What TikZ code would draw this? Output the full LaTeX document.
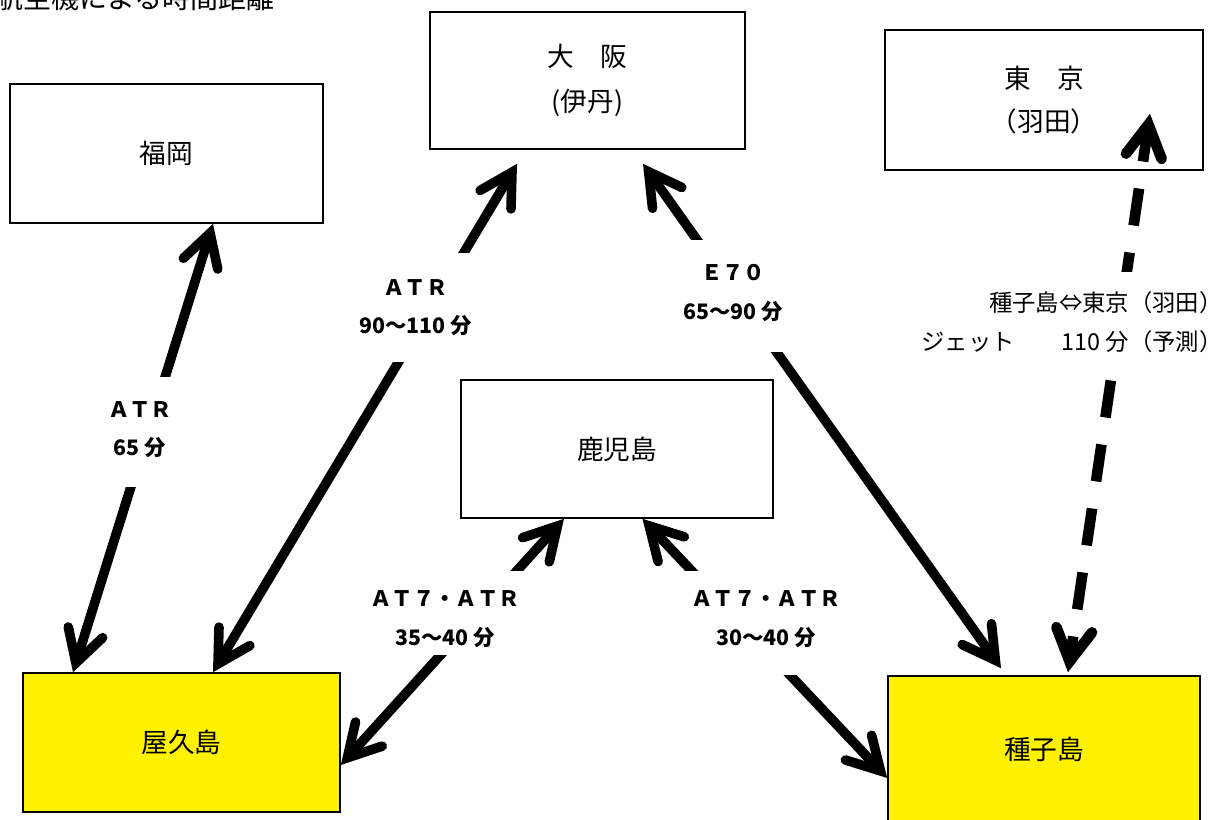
\documentclass[tikz,border=0pt]{standalone}
\usepackage{fontspec}
\setmainfont{Noto Sans CJK JP}
\usetikzlibrary{arrows.meta,calc}
\begin{document}
\begin{tikzpicture}[x=0.75pt,y=-0.75pt,
  headtip/.tip={Straight Barb[length=24pt,width=27pt,line cap=round,line join=miter]},
  box/.style={draw=black, line width=1.2pt, fill=white, inner sep=0pt, align=center,
    font=\fontsize{20}{34}\selectfont},
  island/.style={box, fill=yellow},
  route/.style={line width=7.2pt, arrows={headtip-headtip}},
  dashroute/.style={line width=8pt, arrows={headtip-headtip}, dash pattern=on 28pt off 20.5pt, dash phase=4pt},
  lbl/.style={fill=white, inner sep=0pt, align=center, font=\bfseries\fontsize{16}{29}\selectfont},
  lblreg/.style={fill=white, inner sep=0pt, align=right, font=\fontsize{17.5}{29}\selectfont}
]
\useasboundingbox (0,0) rectangle (1220,819);
\fill[white] (0,0) rectangle (1220,819);

\node[anchor=base west, inner sep=0pt, font=\fontsize{21}{21}\selectfont] (title) at (-5,8.5) {航空機による時間距離};

\node[box, minimum width=234.75pt, minimum height=104.25pt] (fuk) at (166.5,153.5) {福岡};
\node[box, minimum width=236.25pt, minimum height=102.75pt] (osa) at (587.5,80.5) {大　阪\\(伊丹)};
\node[box, minimum width=238.5pt, minimum height=105pt, font=\fontsize{20}{32}\selectfont] (tok) at (1044,100) {東　京\\（羽田）};
\node[box, minimum width=234pt, minimum height=103.5pt] (kag) at (617,449) {鹿児島};
\node[island, minimum width=237.75pt, minimum height=104.25pt] (yak) at (181.5,742.5) {屋久島};
\node[island, minimum width=234pt, minimum height=109.5pt] (tan) at (1044,749) {種子島};

\draw[route] (213,0 |- fuk.south) -- (73,0 |- yak.north);
\draw[route] ($(osa.south -| 517,0)+(0,14)$) -- (213,0 |- yak.north);
\draw[route] ($(osa.south -| 643,0)+(0,14)$) -- ($(tan.north -| 1001,0)+(0,-7)$);
\draw[dashroute] ($(tok.south -| 1150,0)+(0,-57)$) -- ($(tan.north -| 1068,0)+(0,-3)$);
\draw[route] (564,0 |- kag.south) -- (yak.east |- 0,765);
\draw[route] (642.5,0 |- kag.south) -- (tan.west |- 0,778);

\node[lbl, minimum width=60pt, minimum height=82.5pt] (l1) at (140,432) {ＡＴＲ\\65 分\rule[-5pt]{0pt}{0pt}};
\node[lbl, minimum width=90.75pt, minimum height=81.75pt] (l2) at (415.5,307.5) {ＡＴＲ\\90～110 分};
\node[lbl, minimum width=79.5pt, minimum height=84pt] (l3) at (733,296) {Ｅ７０\\65～90 分\rule[-6pt]{0pt}{0pt}};
\node[lblreg, minimum width=219.75pt, minimum height=75pt] (l4) at (1072,322) {種子島⇔東京（羽田）\\ジェット　　110 分（予測）};
\node[lbl, minimum width=127.5pt, minimum height=63pt] (l5) at (445,613) {\rule{0pt}{21.5pt}ＡＴ７・ＡＴＲ\\35～40 分};
\node[lbl, minimum width=129pt, minimum height=78pt] (l6) at (766,623) {ＡＴ７・ＡＴＲ\\30～40 分\rule[-7pt]{0pt}{0pt}};
\end{tikzpicture}
\end{document}
